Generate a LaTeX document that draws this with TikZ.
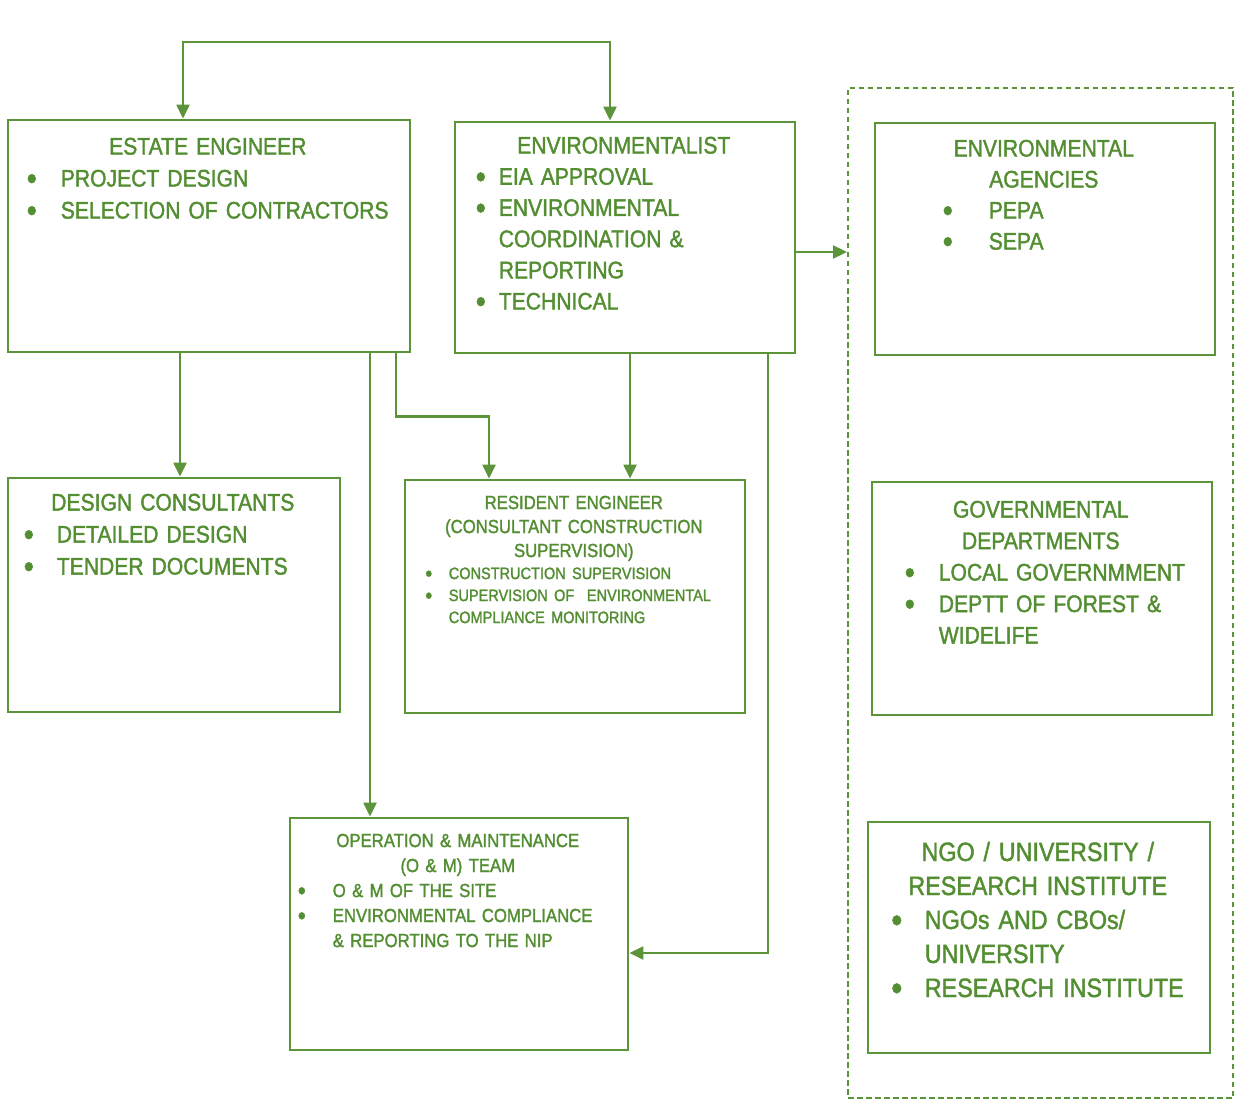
\documentclass[tikz,border=0pt]{standalone}
\usepackage{fontspec}
\usepackage{graphicx}
\setmainfont[FakeStretch=0.88,FakeBold=1.6]{Liberation Sans}
\usetikzlibrary{arrows.meta}
\definecolor{grn}{RGB}{92,148,58}
\definecolor{txtgrn}{RGB}{84,142,50}
% centred heading lines
\newcommand\hd[1]{{\centering #1\par}}
% round bullet mark
\newcommand\dotmark{\raisebox{-0.12em}{\scalebox{1.35}{\textbullet}}}
% bullet item: #1 = bullet centre, #2 = text indent (pt from box edge)
\newcommand\bul[3]{\par\leftskip=#2pt\relax\rightskip=0pt plus 1fil\relax
  \parindent=0pt\noindent
  \llap{\makebox[\dimexpr#2pt-#1pt\relax][l]{\makebox[0pt]{\dotmark}}}#3\par}
\begin{document}
\begin{tikzpicture}[x=1pt,y=-1pt,
  box/.style={draw=grn,line width=2.8pt,inner sep=0pt,fill=white},
  grpbox/.style={draw=grn,line width=2pt,dash pattern=on 5.5pt off 3.5pt,inner sep=0pt},
  txt/.style={anchor=north west,inner sep=0pt,text=txtgrn},
  arr/.style={draw=grn,line width=2.2pt,-{Triangle[length=14pt,width=13pt]}},
  darr/.style={draw=grn,line width=2.2pt,{Triangle[length=14pt,width=13pt]}-{Triangle[length=14pt,width=13pt]}}]
\useasboundingbox[fill=white] (0,0) rectangle (1237,1102);

% group frame for external bodies
\node[grpbox,minimum width=385pt,minimum height=1010pt] (grp) at (1040.5,593) {};

% boxes
\node[box,minimum width=402pt,minimum height=232pt] (ee)  at (209,236) {};
\node[box,minimum width=340pt,minimum height=231pt] (env) at (625,237.5) {};
\node[box,minimum width=340pt,minimum height=232pt] (ag)  at (1045,239) {};
\node[box,minimum width=332pt,minimum height=234pt] (dc)  at (174,595) {};
\node[box,minimum width=340pt,minimum height=233pt] (re)  at (575,596.5) {};
\node[box,minimum width=340pt,minimum height=233pt] (gov) at (1042,598.5) {};
\node[box,minimum width=338pt,minimum height=232pt] (om)  at (459,934) {};
\node[box,minimum width=342pt,minimum height=231pt] (ngo) at (1039,937.5) {};

% texts
\node[txt,text width=402pt,font=\fontsize{24}{32}\selectfont] (eeT) at ([yshift=-19pt]ee.north west)
  {\hd{ESTATE ENGINEER}\bul{25}{54}{PROJECT DESIGN}\bul{25}{54}{SELECTION OF CONTRACTORS}};
\node[txt,text width=340pt,font=\fontsize{24}{31.2}\selectfont] (envT) at ([yshift=-16pt]env.north west)
  {\hd{ENVIRONMENTALIST}\bul{27}{45}{EIA APPROVAL}\bul{27}{45}{ENVIRONMENTAL\\COORDINATION \&\\REPORTING}\bul{27}{45}{TECHNICAL}};
\node[txt,text width=340pt,font=\fontsize{24}{31}\selectfont] (agT) at ([yshift=-18pt]ag.north west)
  {\hd{ENVIRONMENTAL\\AGENCIES}\bul{74}{115}{PEPA}\bul{74}{115}{SEPA}};
\node[txt,text width=332pt,font=\fontsize{24}{32}\selectfont] (dcT) at ([yshift=-17pt]dc.north west)
  {\hd{DESIGN CONSULTANTS}\bul{22}{50}{DETAILED DESIGN}\bul{22}{50}{TENDER DOCUMENTS}};
\node[txt,text width=340pt,font=\fontsize{19}{24}\selectfont] (reT) at ([yshift=-17pt]re.north west)
  {\hd{RESIDENT ENGINEER\\(CONSULTANT CONSTRUCTION\\SUPERVISION)}%
   \fontsize{16.5}{22}\selectfont
   \bul{25}{45}{CONSTRUCTION SUPERVISION}\bul{25}{45}{SUPERVISION OF\ \ ENVIRONMENTAL\\COMPLIANCE MONITORING}};
\node[txt,text width=340pt,font=\fontsize{24}{31.5}\selectfont] (govT) at ([yshift=-20pt]gov.north west)
  {\hd{GOVERNMENTAL\\DEPARTMENTS}\bul{39}{68}{LOCAL GOVERNMMENT}\bul{39}{68}{DEPTT OF FOREST \&\\WIDELIFE}};
\node[txt,text width=338pt,font=\fontsize{19}{25}\selectfont] (omT) at ([yshift=-17pt]om.north west)
  {\hd{OPERATION \& MAINTENANCE\\(O \& M) TEAM}\bul{13}{44}{O \& M OF THE SITE}\bul{13}{44}{ENVIRONMENTAL COMPLIANCE\\\& REPORTING TO THE NIP}};
\node[txt,text width=342pt,font=\fontsize{26.5}{34}\selectfont] (ngoT) at ([yshift=-21pt]ngo.north west)
  {\hd{NGO / UNIVERSITY /\\RESEARCH INSTITUTE}\bul{30}{58}{NGOs AND CBOs/\\UNIVERSITY}\bul{30}{58}{RESEARCH INSTITUTE}};

% connectors
\coordinate (tl) at (183,42);
\coordinate (tr) at (610,42);
\draw[darr] (ee.north -| tl) -- (tl) -- (tr) -- (env.north -| tr);
\draw[arr] ([yshift=-14.5pt]env.east) -- ([yshift=-14.5pt]env.east -| grp.west);
\draw[arr] ([xshift=-29pt]ee.south) -- ([xshift=-29pt]ee.south |- dc.north);
\draw[arr] ([xshift=161pt]ee.south) -- ([xshift=161pt]ee.south |- om.north);
\draw[arr] ([xshift=187pt]ee.south) -- ++(0,-63pt) -| ([xshift=-86pt]re.north);
\draw[arr] ([xshift=5pt]env.south) -- ([xshift=5pt]env.south |- re.north);
\draw[arr] ([xshift=143pt]env.south) |- ([yshift=-19pt]om.east);
\end{tikzpicture}
\end{document}
